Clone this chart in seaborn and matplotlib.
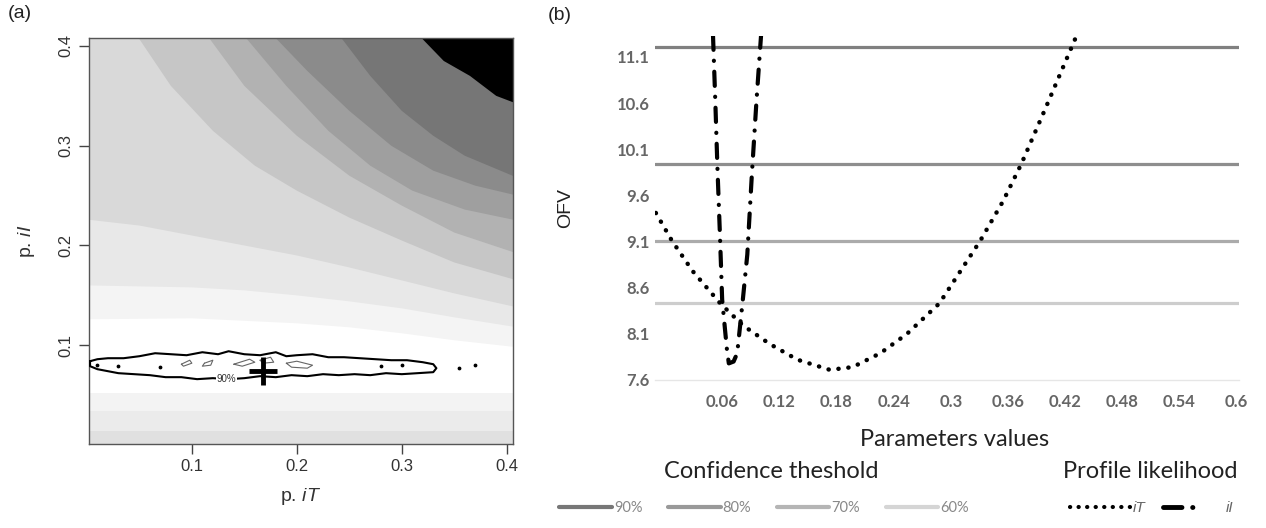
import numpy as np
import pandas as pd
import matplotlib
matplotlib.use("Agg")
import matplotlib.pyplot as plt
from matplotlib.lines import Line2D
import seaborn as sns

sns.set_style("white")
plt.rcParams['font.family'] = ['Liberation Sans', 'DejaVu Sans']
plt.rcParams['mathtext.fontset'] = 'custom'
plt.rcParams['mathtext.it'] = 'Liberation Sans:italic'
plt.rcParams['mathtext.rm'] = 'Liberation Sans'

# ---------- (a) OFV map over p.iT x p.iI ----------
# lower horizontal bands (top edge of band, colour)
low_edges = [0.052, 0.034, 0.014]
low_colors = ['#f3f3f3', '#ebebeb', '#e0e0e0']

# upper band boundaries (region above each one is filled)
bound_x = [
    [0.0, 0.1, 0.2, 0.25, 0.3, 0.35, 0.41],
    [0.0, 0.1, 0.15, 0.2, 0.25, 0.3, 0.35, 0.41],
    [0.0, 0.05, 0.1, 0.15, 0.2, 0.25, 0.3, 0.35, 0.41],
    [0.048, 0.08, 0.12, 0.16, 0.2, 0.25, 0.3, 0.35, 0.41],
    [0.115, 0.15, 0.2, 0.25, 0.3, 0.35, 0.41],
    [0.15, 0.19, 0.23, 0.27, 0.31, 0.36, 0.41],
    [0.178, 0.21, 0.25, 0.29, 0.33, 0.37, 0.41],
    [0.241, 0.27, 0.3, 0.33, 0.36, 0.41],
    [0.317, 0.34, 0.365, 0.39, 0.41],
]
bound_y = [
    [0.126, 0.127, 0.122, 0.118, 0.112, 0.105, 0.098],
    [0.16, 0.158, 0.155, 0.15, 0.144, 0.137, 0.128, 0.118],
    [0.226, 0.22, 0.21, 0.2, 0.19, 0.178, 0.165, 0.152, 0.138],
    [0.41, 0.36, 0.315, 0.28, 0.255, 0.228, 0.205, 0.183, 0.165],
    [0.41, 0.36, 0.31, 0.27, 0.24, 0.213, 0.192],
    [0.41, 0.36, 0.315, 0.28, 0.255, 0.236, 0.225],
    [0.41, 0.375, 0.335, 0.3, 0.275, 0.26, 0.25],
    [0.41, 0.37, 0.335, 0.31, 0.29, 0.268],
    [0.41, 0.385, 0.37, 0.35, 0.342],
]
band_colors = ['#f4f4f4', '#e8e8e8', '#d9d9d9', '#c6c6c6', '#b2b2b2',
               '#9f9f9f', '#8b8b8b', '#767676', '#000000']

# 90% confidence region outline
ci_x = [0.003, 0.01, 0.02, 0.035, 0.05, 0.065, 0.08, 0.095, 0.11, 0.125, 0.135,
        0.15, 0.165, 0.18, 0.19, 0.2, 0.215, 0.23, 0.245, 0.26, 0.275, 0.29,
        0.305, 0.32, 0.33, 0.333,
        0.33, 0.315, 0.3, 0.285, 0.27, 0.255, 0.24, 0.225, 0.21, 0.195, 0.18,
        0.165, 0.15, 0.135, 0.12, 0.105, 0.09, 0.075, 0.06, 0.045, 0.03, 0.02,
        0.01, 0.003, 0.003]
ci_y = [0.084, 0.086, 0.087, 0.087, 0.089, 0.092, 0.091, 0.090, 0.093, 0.091, 0.094,
        0.091, 0.090, 0.093, 0.089, 0.090, 0.091, 0.088, 0.088, 0.087, 0.086, 0.085,
        0.085, 0.083, 0.081, 0.077,
        0.073, 0.072, 0.071, 0.072, 0.070, 0.071, 0.070, 0.071, 0.069, 0.070, 0.068,
        0.069, 0.067, 0.066, 0.067, 0.066, 0.068, 0.068, 0.070, 0.071, 0.072, 0.074,
        0.076, 0.079, 0.084]
# small inner islands (grey)
island_x = [[0.09, 0.098, 0.1, 0.092, 0.09], [0.112, 0.12, 0.118, 0.11, 0.112],
            [0.14, 0.155, 0.16, 0.148, 0.14], [0.165, 0.175, 0.178, 0.168, 0.165],
            [0.19, 0.2, 0.215, 0.21, 0.195, 0.19]]
island_y = [[0.081, 0.085, 0.082, 0.079, 0.081], [0.082, 0.085, 0.08, 0.079, 0.082],
            [0.081, 0.086, 0.083, 0.079, 0.081], [0.085, 0.088, 0.083, 0.082, 0.085],
            [0.082, 0.084, 0.08, 0.077, 0.078, 0.082]]
speck_x = [0.01, 0.03, 0.07, 0.28, 0.3, 0.355, 0.37]
speck_y = [0.080, 0.079, 0.078, 0.079, 0.080, 0.077, 0.080]
best_iT = [0.168]
best_iI = [0.074]

# ---------- (b) profile likelihood ----------
iT_x = [-0.0096, 0.0072, 0.029, 0.058, 0.082, 0.11, 0.139, 0.173, 0.197, 0.226,
        0.254, 0.288, 0.331, 0.355, 0.374, 0.398, 0.427, 0.432]
iT_ofv = [9.41, 9.11, 8.78, 8.43, 8.19, 7.99, 7.82, 7.71, 7.74, 7.89,
          8.10, 8.43, 9.11, 9.54, 9.94, 10.51, 11.21, 11.33]
iI_x = [0.0504, 0.0528, 0.055, 0.0576, 0.06, 0.065, 0.067, 0.072,
        0.0758, 0.0816, 0.0864, 0.0912, 0.096, 0.1008]
iI_ofv = [11.33, 10.62, 9.91, 9.19, 8.47, 7.93, 7.78, 7.80,
          7.89, 8.46, 8.96, 9.83, 10.62, 11.33]
thresholds = [11.21, 9.94, 9.11, 8.43]
thr_labels = ['90%', '80%', '70%', '60%']
thr_colors = ['#808080', '#8e8e8e', '#ababab', '#cdcdcd']
thr_leg_colors = ['#777777', '#999999', '#b5b5b5', '#d5d5d5']
y_ticks = [7.6, 8.1, 8.6, 9.1, 9.6, 10.1, 10.6, 11.1]
x_ticks = [0.06, 0.12, 0.18, 0.24, 0.3, 0.36, 0.42, 0.48, 0.54, 0.6]
x_tick_labels = ['0.06', '0.12', '0.18', '0.24', '0.3', '0.36', '0.42', '0.48', '0.54', '0.6']

W, H = 1266, 528
fig = plt.figure(figsize=(W / 100, H / 100), dpi=100)
LATO = ['Lato', 'DejaVu Sans']

# ===== panel a =====
axA = fig.add_axes([89 / W, 84 / H, 424 / W, 406 / H])
axA.set_xlim(0.002, 0.406)
axA.set_ylim(0.001, 0.408)
axA.set_facecolor('white')
for edge, col in zip(low_edges, low_colors):
    axA.axhspan(0, edge, color=col, lw=0, zorder=1)
for bx, by, col in zip(bound_x, bound_y, band_colors):
    px = bx + [1.0, 1.0, bx[0]]
    py = by + [by[-1], 1.0, 1.0]
    axA.fill(px, py, color=col, lw=0, zorder=1)
for ix, iy in zip(island_x, island_y):
    axA.plot(ix, iy, color='#666666', lw=0.8, zorder=3)
axA.plot(ci_x, ci_y, color='black', lw=1.5, zorder=4)
axA.scatter(speck_x, speck_y, s=3, color='black', zorder=4)
axA.plot(best_iT, best_iI, marker='+', ms=20, mew=3.5, color='black', zorder=5)
axA.text(0.133, 0.066, '90%', fontsize=7, color='#333333', ha='center', va='center', zorder=5,
         bbox=dict(boxstyle='square,pad=0.05', fc='white', ec='none'))

axA.set_xticks([0.1, 0.2, 0.3, 0.4])
axA.set_yticks([0.1, 0.2, 0.3, 0.4])
axA.set_xticklabels(['0.1', '0.2', '0.3', '0.4'])
axA.set_yticklabels(['0.1', '0.2', '0.3', '0.4'], rotation=90, va='center')
axA.tick_params(direction='out', length=7, width=1, color='#444444',
                labelsize=12, labelcolor='#333333', pad=4,
                bottom=True, left=True)
for sp in axA.spines.values():
    sp.set_color('#555555')
    sp.set_linewidth(1)
axA.set_xlabel(r'p. $\mathit{iT}$', fontsize=14, color='#333333')
axA.set_ylabel(r'p. $\mathit{iI}$', fontsize=14, color='#333333')
axA.xaxis.set_label_coords(0.5, -(486 - 444) / 406)
axA.yaxis.set_label_coords(-(89 - 37) / 424, 0.5)

# ===== panel b =====
axB = fig.add_axes([655 / W, 148 / H, 583.5 / W, 344.3 / H])
for thr, col in zip(thresholds, thr_colors):
    axB.axhline(thr, color=col, lw=2.3, zorder=1)
sns.lineplot(x=iT_x, y=iT_ofv, ax=axB, sort=False, estimator=None, color='black',
             lw=3.2, linestyle=(0, (0.05, 2.2)), dash_capstyle='round', zorder=3)
sns.lineplot(x=iI_x, y=iI_ofv, ax=axB, sort=False, estimator=None, color='black',
             lw=3.0, linestyle=(0, (3.4, 2.6, 0.05, 2.6)), dash_capstyle='round', zorder=3)
axB.set_xlim(-0.0105, 0.602)
axB.set_ylim(7.6, 11.33)
axB.set_xticks(x_ticks)
axB.set_xticklabels(x_tick_labels)
axB.set_yticks(y_ticks)
axB.set_yticklabels([f'{v:.1f}' for v in y_ticks])
axB.tick_params(length=0, labelsize=12, labelcolor='#666666', pad=4)
axB.tick_params(axis='x', pad=10)
for lbl in axB.get_xticklabels() + axB.get_yticklabels():
    lbl.set_family(LATO)
    lbl.set_fontweight('bold')
for s in ['top', 'right', 'left']:
    axB.spines[s].set_visible(False)
axB.spines['bottom'].set_color('#e6e6e6')
axB.spines['bottom'].set_linewidth(1)
axB.set_ylabel('OFV', fontsize=14, color='#222222')
axB.yaxis.set_label_coords(-(655 - 574) / 583.5, 0.5)
axB.set_xlabel('Parameters values', fontsize=17, color='#222222', family=LATO)
axB.xaxis.set_label_coords((955 - 655) / 583.5, -(429 - 380) / 344.3)

# legend titles
fig.text(771 / W, 1 - 471 / H, 'Confidence theshold', fontsize=17, family=LATO,
         color='#222222', ha='center', va='center')
fig.text(1150 / W, 1 - 471 / H, 'Profile likelihood', fontsize=17, family=LATO,
         color='#222222', ha='center', va='center')

# legends
thr_handles = [Line2D([], [], color=c, lw=3) for c in thr_leg_colors]
leg1 = fig.legend(thr_handles, thr_labels, ncol=4,
                  loc='center left', bbox_to_anchor=(552 / W, 1 - 508 / H),
                  frameon=False, handlelength=3.6, handletextpad=0.15,
                  columnspacing=1.75, borderpad=0,
                  prop={'family': LATO, 'size': 10.5})
for t in leg1.get_texts():
    t.set_color('#888888')
prof_handles = [Line2D([], [], color='black', lw=3, linestyle=(0, (0.05, 2.0)), dash_capstyle='round'),
                Line2D([], [], color='black', lw=3.5, linestyle=(0, (3.8, 2.2, 0.05, 30)), dash_capstyle='round')]
leg2 = fig.legend(prof_handles, ['iT', 'iI'], ncol=2,
                  loc='center left', bbox_to_anchor=(1062 / W, 1 - 508 / H),
                  frameon=False, handlelength=4.0, handletextpad=0.15,
                  columnspacing=1.1, borderpad=0,
                  prop={'family': ['Liberation Sans', 'DejaVu Sans'], 'size': 11, 'style': 'italic'})
for t in leg2.get_texts():
    t.set_color('#666666')

fig.text(8 / W, 1 - 14 / H, '(a)', fontsize=14, va='center', ha='left', color='#222222')
fig.text(548 / W, 1 - 15 / H, '(b)', fontsize=14, va='center', ha='left', color='#222222')

fig.savefig('out.png', dpi=100)
